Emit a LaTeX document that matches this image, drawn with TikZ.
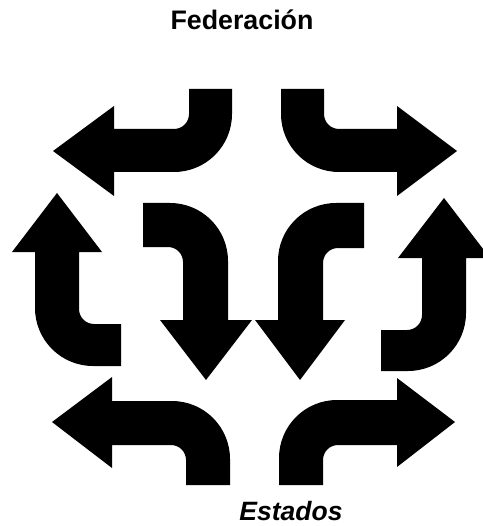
\documentclass[tikz,border=0pt]{standalone}
\usepackage{fontspec}
\setmainfont{Liberation Sans}
\usepackage{tikz}
\usetikzlibrary{calc}

\tikzset{
  bentarrow/.style={fill=black},
  title/.style={font=\bfseries\fontsize{26.8}{32}\selectfont},
  subtitle/.style={font=\bfseries\itshape\fontsize{26.5}{32}\selectfont}
}

\begin{document}
\begin{tikzpicture}[x=1pt,y=-1pt]
  \useasboundingbox (0,0) rectangle (482,526);
  % upper pair
  \fill[bentarrow] (189,89) -- (189,114) arc[start angle=0,end angle=90,radius=15] -- (114,129) -- (114,106) -- (53,151)
    -- (114,196) -- (114,172) -- (174,172) arc[start angle=90,end angle=0,radius=58] -- (232,89) -- cycle;
  \fill[bentarrow] (324,89) -- (324,114) arc[start angle=180,end angle=90,radius=15] -- (397,129) -- (397,106) -- (457,151)
    -- (397,196) -- (397,172) -- (339,172) arc[start angle=90,end angle=180,radius=58] -- (281,89) -- cycle;
  % sides
  \fill[bentarrow] (79,252) -- (79,309) arc[start angle=180,end angle=90,radius=15] -- (121,324) -- (121,366)
    -- (93,366) arc[start angle=90,end angle=180,radius=58] -- (35,252) -- (12,252) -- (57,193) -- (102,252) -- cycle;
  \fill[bentarrow] (422,258) -- (422,315) arc[start angle=0,end angle=90,radius=15] -- (381,330) -- (381,371)
    -- (408,371) arc[start angle=90,end angle=0,radius=58] -- (466,258) -- (490,258) -- (444,198) -- (398,258) -- cycle;
  % middle pair
  \fill[bentarrow] (143,203) -- (170,203) arc[start angle=270,end angle=360,radius=58] -- (228,320) -- (252,320)
    -- (206,380) -- (160,320) -- (183,320) -- (183,262) arc[start angle=0,end angle=-90,radius=15] -- (143,247) -- cycle;
  \fill[bentarrow] (364,203) -- (336,203) arc[start angle=270,end angle=180,radius=58] -- (278,320) -- (255,320)
    -- (300,380) -- (345,320) -- (323,320) -- (323,263) arc[start angle=180,end angle=270,radius=15] -- (364,248) -- cycle;
  % lower pair
  \fill[bentarrow] (52,422) -- (112,377) -- (112,401) -- (172,401) arc[start angle=270,end angle=360,radius=58]
    -- (230,485) -- (186,485) -- (186,460) arc[start angle=0,end angle=-90,radius=15] -- (112,445) -- (112,468) -- cycle;
  \fill[bentarrow] (455,422) -- (397,378) -- (397,400) -- (337,400) arc[start angle=270,end angle=180,radius=58]
    -- (279,485) -- (323,485) -- (323,460) arc[start angle=180,end angle=270,radius=15] -- (397,445) -- (397,467) -- cycle;
  \node[title] (fed) at (242,20) {Federación};
  \node[subtitle] (est) at (291,511) {Estados};
\end{tikzpicture}
\end{document}
